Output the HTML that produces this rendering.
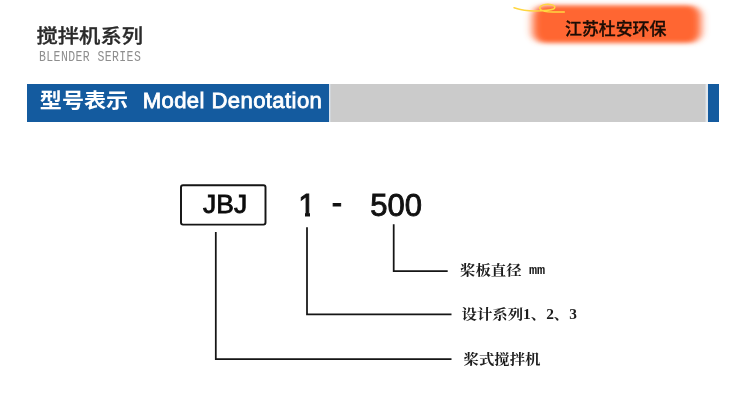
<!DOCTYPE html>
<html lang="zh-CN">
<head>
<meta charset="utf-8">
<title>搅拌机系列</title>
<style>
html,body{margin:0;padding:0;background:#fff;}
body{width:750px;height:401px;position:relative;overflow:hidden;filter:blur(0.4px);font-family:"Liberation Sans","Noto Sans CJK SC",sans-serif;}
.abs{position:absolute;white-space:nowrap;line-height:1;}
#title{left:36.5px;top:27.6px;font-size:21.3px;color:#2a2a2a;font-weight:500;-webkit-text-stroke:0.35px #2a2a2a;transform:scaleY(0.89);transform-origin:0 0;}
#sub{left:39px;top:50.4px;font-family:"Liberation Mono",monospace;font-size:14px;color:#8e8e8e;letter-spacing:0.5px;transform:scaleX(0.82);transform-origin:0 0;}
#bar{left:27px;top:83.6px;width:302.2px;height:38px;background:#145b9f;}
#bargray{left:329.2px;top:83.5px;width:378.8px;height:38px;background:linear-gradient(90deg,#dbe4ee 0,#dbe4ee 1px,#cbcbcb 1.8px,#cbcbcb 376px,#e2e7ec 377.2px,#e2e7ec 100%);}
#barend{left:707.8px;top:83.7px;width:10.9px;height:38px;background:#145b9f;}
#bartxt{left:39.8px;top:91.2px;color:#fff;font-size:22.1px;font-weight:bold;transform:scaleY(0.93);transform-origin:0 0;}
#bartxt2{left:142.7px;top:90.2px;color:#fff;font-size:22.1px;letter-spacing:0.4px;-webkit-text-stroke:0.8px #fff;}

#badgetxt{left:565px;top:21.8px;font-size:16.9px;color:#1c0d05;font-weight:500;-webkit-text-stroke:0.3px #1c0d05;}
#jbj{left:203.1px;top:191.1px;font-size:26.4px;color:#0c0c0c;-webkit-text-stroke:0.85px #0c0c0c;}
#one{left:298.3px;top:189.9px;font-size:31px;color:#111;-webkit-text-stroke:0.9px #111;}
#dash{left:331.8px;top:187.2px;font-size:31px;color:#111;-webkit-text-stroke:0.9px #111;}
#five{left:370.3px;top:189.9px;font-size:31px;color:#111;-webkit-text-stroke:0.9px #111;}
.cov{background:#fff;}
.lab{font-family:"Liberation Serif","Noto Serif CJK SC",serif;font-weight:bold;font-size:15.4px;color:#1c1c1c;transform:scaleY(0.92);transform-origin:0 50%;}
#l1{left:460px;top:261.7px;}
#l2{left:461.5px;top:305.8px;}
#l3{left:463.5px;top:350.6px;}
.mm{font-family:"Liberation Mono",monospace;font-size:13.6px;font-weight:bold;margin-left:7.3px;position:relative;top:-0.8px;}
svg{position:absolute;left:0;top:0;}
</style>
</head>
<body>
<div class="abs" id="title">搅拌机系列</div>
<div class="abs" id="sub">BLENDER SERIES</div>
<div class="abs" id="bar"></div>
<div class="abs" id="bargray"></div>
<div class="abs" id="barend"></div>
<div class="abs" id="bartxt">型号表示</div>
<div class="abs" id="bartxt2">Model Denotation</div>
<svg width="750" height="401" viewBox="0 0 750 401" fill="none">
  <defs><filter id="bl" x="-10%" y="-30%" width="120%" height="160%"><feGaussianBlur stdDeviation="4.3 2"/></filter><filter id="bl2" x="-10%" y="-50%" width="120%" height="200%"><feGaussianBlur stdDeviation="0.45"/></filter></defs>
  <rect x="532.5" y="5.3" width="168.5" height="37.7" rx="12" fill="#ff6632" filter="url(#bl)"/>
  <path d="M514 7.7 C520 9.5 527 10.9 534 10.9 C542 10.9 550 10.8 553.5 9 C556 7.5 555 5 550 4.4 C545 3.9 540.5 5.2 539.8 7.5 C539.2 9.8 543 11.3 548 11.7 C553 12.1 559 12.1 564.3 12" stroke="#ffd640" stroke-width="1.5" stroke-linecap="round" filter="url(#bl2)"/>
  <g stroke="#151515" stroke-width="1.75">
    <rect x="181" y="185.2" width="84.5" height="39.4" rx="2" stroke-width="1.95"/>
    <path d="M393.7 224.3 V271.2 H447.7"/>
    <path d="M307 227.2 V314.3 H451.5"/>
    <path d="M215.8 232 V359.1 H451.5"/>
  </g>
</svg>
<div class="abs" id="badgetxt">江苏杜安环保</div>

<div class="abs" id="jbj">JBJ</div>
<div class="abs" id="one">1</div>
<div class="abs cov" style="left:297px;top:211px;width:8.3px;height:8px"></div>
<div class="abs cov" style="left:310.1px;top:211px;width:7px;height:8px"></div>
<div class="abs" id="dash">-</div>
<div class="abs" id="five">500</div>
<div class="abs lab" id="l1">桨板直径<span class="mm">mm</span></div>
<div class="abs lab" id="l2">设计系列1、2、3</div>
<div class="abs lab" id="l3">桨式搅拌机</div>
</body>
</html>
